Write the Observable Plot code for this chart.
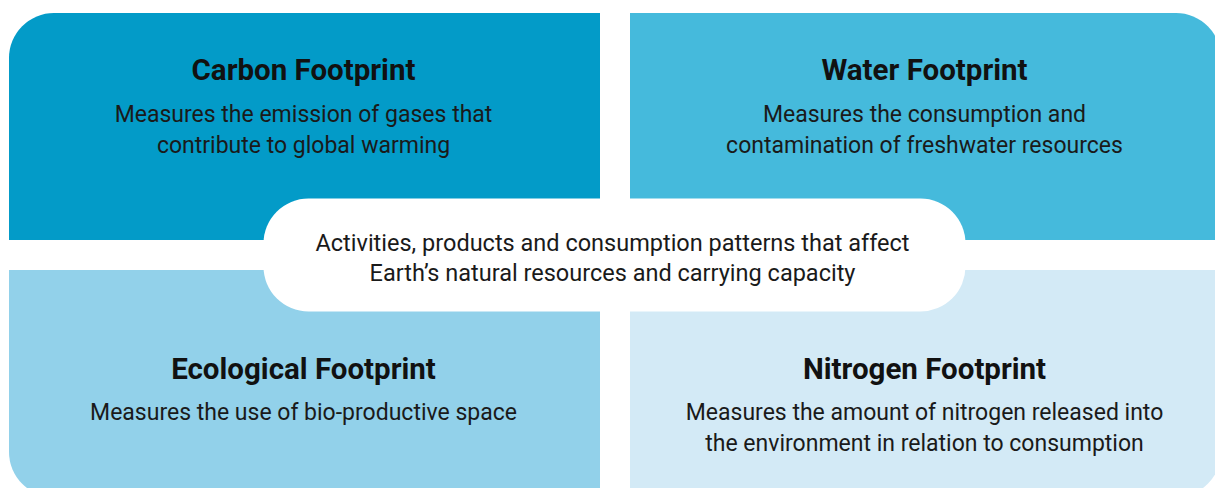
<!DOCTYPE html>
<html>
<head>
<meta charset="utf-8">
<script src="https://cdn.jsdelivr.net/npm/d3@7"></script>
<script src="https://cdn.jsdelivr.net/npm/@observablehq/plot@0.6"></script>
<style>
  html, body { margin: 0; padding: 0; background: #ffffff; }
  #chart svg { display: block; }
</style>
</head>
<body>
<div id="chart"></div>
<script>
// ---- data ----
const footprints = ["Carbon Footprint", "Water Footprint", "Ecological Footprint", "Nitrogen Footprint"];
const descriptions = [
  "Measures the emission of gases that\ncontribute to global warming",
  "Measures the consumption and\ncontamination of freshwater resources",
  "Measures the use of bio-productive space",
  "Measures the amount of nitrogen released into\nthe environment in relation to consumption"
];
const columns = ["left", "right", "left", "right"];
const rows = ["top", "top", "bottom", "bottom"];
const centerText = "Activities, products and consumption patterns that affect\nEarth\u2019s natural resources and carrying capacity";

// palette (style, kept separate from data)
const palette = ["#039bc8", "#45badc", "#92d1ea", "#d3eaf6"];

const quads = footprints.map((name, i) => ({
  name, desc: descriptions[i], col: columns[i], row: rows[i]
}));
const left = quads.filter(d => d.col === "left");
const right = quads.filter(d => d.col === "right");
const top_ = quads.filter(d => d.row === "top");
const bottom = quads.filter(d => d.row === "bottom");

const titleFont = "Roboto, 'Liberation Sans', sans-serif";
const bodyFont = "Roboto, 'Liberation Sans', sans-serif";

const cellOpts = {x: "col", y: "row", fill: "name"};

const chart = Plot.plot({
  width: 1215,
  height: 488,
  margin: 0,
  style: {background: "#ffffff"},
  x: {type: "band", domain: ["left", "right"], range: [9, 1221], paddingInner: 60 / 1242, paddingOuter: 0, axis: null},
  y: {type: "band", domain: ["top", "bottom"], range: [13, 497], paddingInner: 60 / 514, paddingOuter: 0, axis: null},
  color: {domain: footprints, range: palette},
  marks: [
    // rounded quadrant (only outer corner remains rounded after covers)
    Plot.cell(quads, {...cellOpts, rx: 45}),
    Plot.cell(left, {...cellOpts, insetLeft: 60}),
    Plot.cell(right, {...cellOpts, insetRight: 60}),
    Plot.cell(top_, {...cellOpts, insetTop: 60}),
    Plot.cell(bottom, {...cellOpts, insetBottom: 60}),
    // central pill
    Plot.frame({fill: "#ffffff", stroke: "none", rx: 45, insetLeft: 263, insetRight: 250, insetTop: 198, insetBottom: 177}),
    // titles
    Plot.text(top_, {x: "col", y: "row", text: "name", dx: -1.5, dy: -56, fontSize: 29.5, fontWeight: 700, fontFamily: titleFont, fill: "#111111", lineAnchor: "middle"}),
    Plot.text(bottom, {x: "col", y: "row", text: "name", dx: -1.5, dy: -14, fontSize: 29.5, fontWeight: 700, fontFamily: titleFont, fill: "#111111", lineAnchor: "middle"}),
    // descriptions
    Plot.text(top_, {x: "col", y: "row", text: "desc", dx: -1.5, dy: -27.5, fontSize: 23, lineHeight: 31.5 / 23, fontFamily: bodyFont, fill: "#1a1a1a", lineAnchor: "top"}),
    Plot.text(bottom, {x: "col", y: "row", text: "desc", dx: -1.5, dy: 14, fontSize: 23, lineHeight: 31 / 23, fontFamily: bodyFont, fill: "#1a1a1a", lineAnchor: "top"}),
    // center text
    Plot.text([centerText], {frameAnchor: "middle", text: d => d, dx: 4.5, dy: -15, fontSize: 23.5, lineHeight: 30 / 23.5, fontFamily: bodyFont, fill: "#1a1a1a", lineAnchor: "top"})
  ]
});

document.getElementById("chart").appendChild(chart);
</script>
</body>
</html>
